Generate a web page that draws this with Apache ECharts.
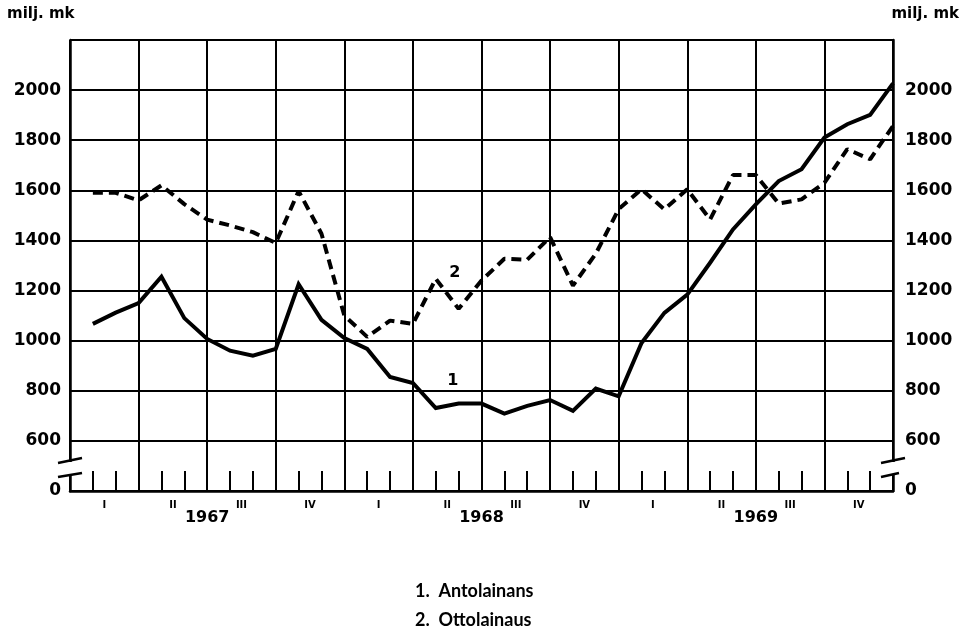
<!DOCTYPE html>
<html>
<head>
<meta charset="utf-8">
<script src="https://cdn.jsdelivr.net/npm/echarts@6/dist/echarts.min.js"></script>
<style>
  html, body { margin: 0; padding: 0; background: #fff; }
  #chart { width: 966px; height: 636px; }
</style>
</head>
<body>
<div id="chart"></div>
<script>
// kuukausiarvot 1967-1969 (milj. mk), piste kuukauden lopussa
const antolainans = [1067, 1112, 1150, 1255, 1090, 1007, 960, 940, 967, 1225, 1083, 1010,
  967, 855, 831, 731, 749, 749, 709, 740, 763, 720, 809, 778,
  991, 1111, 1184, 1311, 1444, 1544, 1637, 1684, 1811, 1864, 1901, 2027]
const ottolainaus = [1590, 1590, 1560, 1620, 1545, 1483, 1460, 1433, 1390, 1597, 1427, 1100,
  1015, 1080, 1067, 1247, 1127, 1240, 1327, 1323, 1413, 1220, 1347, 1525,
  1604, 1524, 1604, 1484, 1661, 1661, 1547, 1564, 1630, 1764, 1724, 1857]
const quarters = ['I', 'II', 'III', 'IV', 'I', 'II', 'III', 'IV', 'I', 'II', 'III', 'IV']
const years = ['1967', '1968', '1969']
const legendTexts = ['1.  Antolainans', '2.  Ottolainaus']

const FONT = 'DejaVu Sans'
const black = '#000'

const chart = echarts.init(document.getElementById('chart'))

function toPairs(arr) {
  return arr.map((v, i) => [i + 1, v])
}

const yLabel = {
  fontFamily: FONT,
  fontWeight: 'bold',
  fontSize: 17,
  color: black,
  formatter: v => (v === 400 ? '0' : (v === 2200 ? '' : String(v)))
}

const option = {
  animation: false,
  backgroundColor: '#fff',
  grid: { left: 70, right: 73, top: 40, bottom: 145, outerBoundsMode: 'none' },
  xAxis: [
    {
      type: 'value', min: 0, max: 36, interval: 3,
      axisLine: { show: true, lineStyle: { color: black, width: 2.5 } },
      axisTick: { show: true, inside: true, length: 20, lineStyle: { color: black, width: 2 } },
      minorTick: { show: true, splitNumber: 3, length: 20, lineStyle: { color: black, width: 2 } },
      axisLabel: { show: false },
      splitLine: { show: true, lineStyle: { color: black, width: 2 } }
    },
    {
      type: 'category', data: quarters, position: 'bottom', offset: 0,
      axisLine: { show: false }, axisTick: { show: false },
      axisLabel: { margin: 9, fontFamily: FONT, fontWeight: 'bold', fontSize: 10, color: black }
    },
    {
      type: 'category', data: years, position: 'bottom', offset: 0,
      axisLine: { show: false }, axisTick: { show: false },
      axisLabel: { margin: 19, fontFamily: FONT, fontWeight: 'bold', fontSize: 16, color: black }
    }
  ],
  yAxis: [
    {
      type: 'value', min: 400, max: 2200, interval: 200, position: 'left',
      axisLine: { show: true, lineStyle: { color: black, width: 2.5 } },
      axisTick: { show: false },
      axisLabel: Object.assign({ margin: 9 }, yLabel),
      splitLine: { show: true, lineStyle: { color: black, width: 2 } }
    },
    {
      type: 'value', min: 400, max: 2200, interval: 200, position: 'right',
      axisLine: { show: true, lineStyle: { color: black, width: 2.5 } },
      axisTick: { show: false },
      axisLabel: Object.assign({ margin: 12 }, yLabel),
      splitLine: { show: false }
    }
  ],
  series: [
    {
      name: 'Antolainans', type: 'line', xAxisIndex: 0, yAxisIndex: 0,
      data: toPairs(antolainans), symbol: 'none',
      lineStyle: { color: black, width: 4, join: 'miter' }
    },
    {
      name: 'Ottolainaus', type: 'line', xAxisIndex: 0, yAxisIndex: 0,
      data: toPairs(ottolainaus), symbol: 'none',
      lineStyle: { color: black, width: 4, type: [10, 6] }
    }
  ]
}

chart.setOption(option)

// katkomerkit, sarjanumerot ja selitteet
const px = (x, y) => chart.convertToPixel({ gridIndex: 0 }, [x, y])
const bl = px(0, 400)
const br = px(36, 400)
const lbl1 = px(16.75, 844)
const lbl2 = px(16.83, 1272)

function brk(x, y0, rightShort) {
  const s = { stroke: black, lineWidth: 2.5 }
  return [
    { type: 'rect', shape: { x: x - 3, y: y0 - 29, width: 6, height: 12 }, style: { fill: '#fff' }, z: 100 },
    { type: 'line', shape: { x1: x - 12, y1: y0 - 28, x2: x + 12, y2: y0 - 33 }, style: s, z: 101 },
    { type: 'line', shape: { x1: x - 12, y1: y0 - 14, x2: rightShort ? x + 6 : x + 12, y2: y0 - 18 }, style: s, z: 101 }
  ]
}

const textStyle = (t, x, y, size, align, family) => ({
  type: 'text', x: x, y: y, z: 102,
  style: { text: t, fill: black, font: 'bold ' + size + 'px ' + (family || FONT), align: align, verticalAlign: 'middle' }
})

chart.setOption({
  graphic: [].concat(
    brk(bl[0], bl[1], false),
    brk(br[0], br[1], true),
    [
      textStyle('milj. mk', 7, 14, 15, 'left'),
      textStyle('milj. mk', 959, 14, 15, 'right'),
      textStyle('1', lbl1[0], lbl1[1] + 1, 16, 'center'),
      textStyle('2', lbl2[0], lbl2[1], 16, 'center'),
      textStyle(legendTexts[0], 415, 591, 18, 'left', 'Lato'),
      textStyle(legendTexts[1], 415, 620, 18, 'left', 'Lato')
    ]
  )
})
</script>
</body>
</html>
